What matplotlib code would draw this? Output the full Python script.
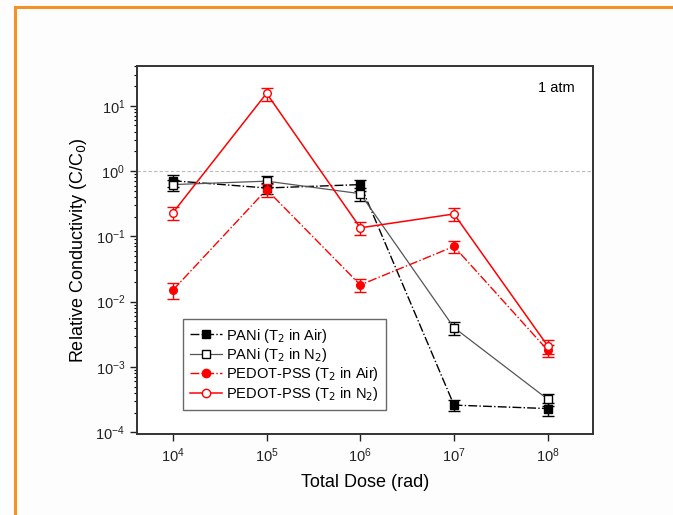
import numpy as np
import matplotlib
matplotlib.use('Agg')
import matplotlib.pyplot as plt
from matplotlib.lines import Line2D
from matplotlib.ticker import LogLocator, NullFormatter, NullLocator

plt.rcParams['font.family'] = ['Liberation Sans', 'DejaVu Sans']

dose = [1e4, 1e5, 1e6, 1e7, 1e8]

pani_air = [0.71, 0.55, 0.62, 2.6e-4, 2.3e-4]
pani_air_err = [0.15, 0.1, 0.12, 5e-5, 5e-5]
pani_n2 = [0.62, 0.70, 0.45, 4.0e-3, 3.2e-4]
pani_n2_err = [0.12, 0.13, 0.1, 9e-4, 7e-5]
pedot_air = [0.015, 0.52, 0.018, 0.07, 1.8e-3]
pedot_air_err = [0.004, 0.12, 0.004, 0.015, 4e-4]
pedot_n2 = [0.23, 15.5, 0.135, 0.22, 2.1e-3]
pedot_n2_err = [0.05, 3.5, 0.03, 0.05, 5e-4]

labels = ['PANi (T$_2$ in Air)', 'PANi (T$_2$ in N$_2$)',
          'PEDOT-PSS (T$_2$ in Air)', 'PEDOT-PSS (T$_2$ in N$_2$)']

fig = plt.figure(figsize=(6.73, 5.15), dpi=100)
fig.patch.set_facecolor('#fdfdfd')
ax = fig.add_axes([0.2036, 0.157, 0.677, 0.715])

ax.axhline(1.0, color='#bbbbbb', ls='--', lw=0.8, dashes=(3, 2), zorder=1)

styles = [
    dict(color='black', ls='-.', lw=1, marker='s', mfc='black', mec='black', ecolor='black'),
    dict(color='#555555', ls='-', lw=0.9, marker='s', mfc='white', mec='black', ecolor='black'),
    dict(color='red', ls='-.', lw=1, marker='o', mfc='red', mec='red', ecolor='red'),
    dict(color='red', ls='-', lw=1.1, marker='o', mfc='white', mec='red', ecolor='red'),
]
series = [(pani_air, pani_air_err), (pani_n2, pani_n2_err),
          (pedot_air, pedot_air_err), (pedot_n2, pedot_n2_err)]

handles = []
for (vals, errs), st, lab, z in zip(series, styles, labels, [3, 3, 4, 4]):
    ax.errorbar(dose, vals, yerr=errs, capsize=4, elinewidth=1, capthick=1,
                markersize=5.5, markeredgewidth=1, zorder=z, **st)
    hs = {k: v for k, v in st.items() if k != 'ecolor'}
    handles.append(Line2D([], [], markersize=6, markeredgewidth=1, label=lab, **hs))

ax.set_xscale('log')
ax.set_yscale('log')
ax.set_xlim(10 ** 3.617, 10 ** 8.48)
ax.set_ylim(10 ** -4.03, 10 ** 1.61)

ax.xaxis.set_minor_locator(NullLocator())
ax.yaxis.set_major_locator(LogLocator(base=10, numticks=10))
ax.yaxis.set_minor_locator(LogLocator(base=10, subs=np.arange(2, 10), numticks=20))
ax.yaxis.set_minor_formatter(NullFormatter())

ax.tick_params(which='major', direction='out', length=5, width=1, labelsize=10.5, colors='#222222')
ax.tick_params(which='minor', direction='out', length=2.5, width=0.8)
ax.tick_params(top=False, right=False)

for s in ax.spines.values():
    s.set_linewidth(1.4)
    s.set_color('#333333')

ax.set_xlabel('Total Dose (rad)', fontsize=13, labelpad=7)
ax.set_ylabel('Relative Conductivity (C/C$_0$)', fontsize=13, labelpad=5)

ax.text(0.96, 0.94, '1 atm', transform=ax.transAxes, ha='right', va='center', fontsize=10.5)

leg = ax.legend(handles=handles, loc='lower left', bbox_to_anchor=(0.1, 0.065), fontsize=10.5,
                frameon=True, fancybox=False, handlelength=2.2, handletextpad=0.3,
                borderpad=0.5, labelspacing=0.1, borderaxespad=0)
leg.get_frame().set_edgecolor('#444444')
leg.get_frame().set_linewidth(1)

# orange slide border
orange = '#f39325'
fig.add_artist(Line2D([15 / 673, 1], [1 - 7 / 515, 1 - 7 / 515], color=orange, lw=2.2))
fig.add_artist(Line2D([15 / 673, 15 / 673], [0, 1 - 7 / 515], color=orange, lw=2.2))

fig.savefig('out.png', dpi=100, facecolor=fig.get_facecolor())
